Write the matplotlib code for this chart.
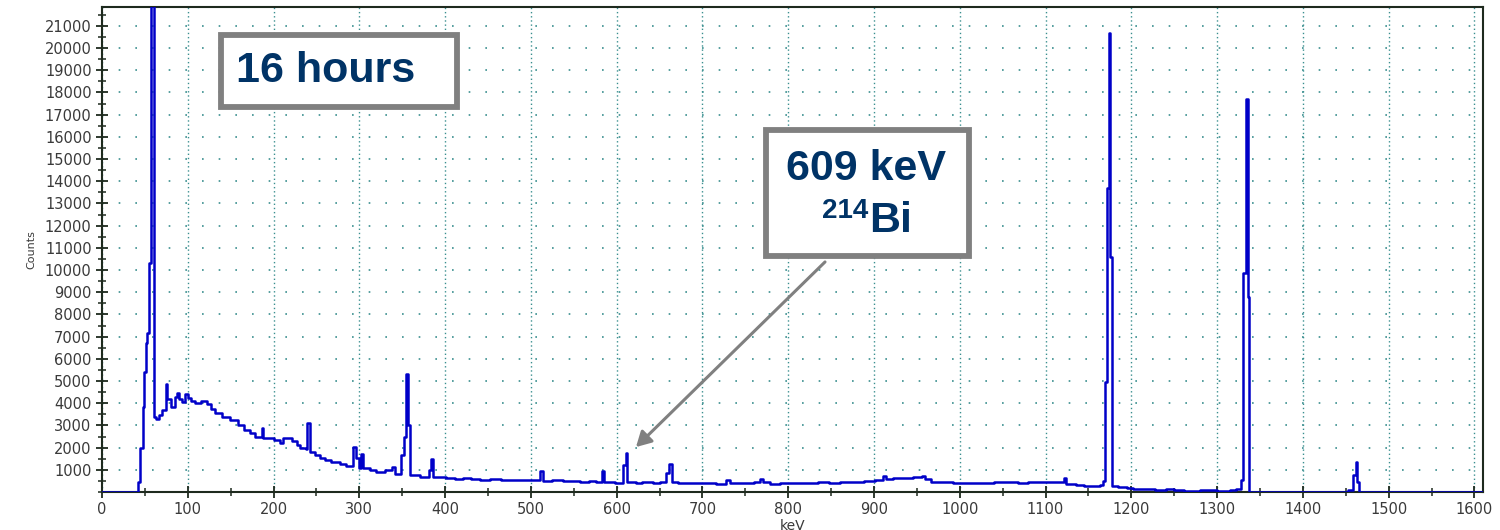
import matplotlib
matplotlib.use("Agg")
import matplotlib.pyplot as plt
from matplotlib.patches import Rectangle, FancyArrowPatch
from matplotlib.ticker import MultipleLocator

# ============================================================
# Spectrum (keV, counts), drawn as steps
# ============================================================
energy_kev = [
    0, 42, 44, 47.5, 49, 51, 52.5, 54.5, 57, 60.5,
    63, 66, 69.5, 74.5, 76, 81, 85, 87, 90, 93,
    97, 100, 104, 108, 115, 122, 127, 132, 140, 149,
    158.5, 166, 172.5, 178, 186, 188, 200, 207.5, 211, 215,
    221, 227, 231, 238, 239.5, 242.5, 248, 254, 260, 267.5,
    271.5, 277, 285, 292.5, 296.5, 299.5, 302.5, 304.5, 312, 320,
    330, 338.5, 341.5, 349, 351.5, 354.5, 357, 359, 370.5, 381,
    383, 385.5, 401.5, 412, 421, 430, 440.5, 452, 465, 478,
    490, 499, 510.5, 514, 525, 538, 548, 557, 568, 576,
    582.5, 585, 592, 598, 607.5, 610.5, 612.5, 622, 630, 642,
    650, 658, 661, 664, 672, 684, 693, 705, 716, 728,
    732, 742, 751, 760, 767, 771, 779, 790, 800, 810,
    822, 835, 848, 860, 875, 888, 901, 910.5, 914, 922,
    935, 945, 955.5, 960, 967, 980, 992, 1004, 1015, 1028,
    1040, 1055, 1068, 1080, 1092, 1100, 1110, 1118.5, 1121.5, 1124,
    1135, 1145, 1152, 1158, 1163, 1167, 1169, 1171.5, 1173.5, 1175.5,
    1178, 1185, 1195, 1202, 1215, 1228, 1241, 1250, 1261, 1280,
    1300, 1315, 1322, 1327.5, 1330.5, 1333.5, 1335.5, 1337, 1453, 1458,
    1461.5, 1463.5, 1466, 1610,
]
counts = [
    0, 450, 2000, 3850, 5400, 6700, 7150, 10300, 95000, 3400,
    3300, 3450, 3700, 4850, 4200, 3850, 4300, 4450, 4200, 4050,
    4400, 4250, 4100, 4000, 4100, 3950, 3750, 3550, 3400, 3250,
    3000, 2800, 2650, 2500, 2900, 2450, 2350, 2200, 2430, 2450,
    2280, 2120, 2000, 1950, 3100, 1800, 1650, 1530, 1450, 1330,
    1350, 1280, 1170, 2030, 1530, 1080, 1700, 1080, 1000, 900,
    980, 1130, 800, 1670, 2480, 5300, 3000, 780, 680, 990,
    1480, 680, 630, 600, 620, 580, 560, 590, 540, 560,
    520, 540, 950, 500, 520, 480, 500, 460, 480, 450,
    950, 450, 470, 420, 1200, 1750, 450, 420, 440, 400,
    430, 850, 1250, 430, 400, 420, 390, 410, 380, 520,
    420, 400, 390, 430, 570, 450, 380, 410, 390, 420,
    400, 440, 420, 460, 440, 480, 520, 740, 600, 640,
    620, 680, 740, 600, 460, 440, 420, 400, 420, 400,
    430, 450, 420, 460, 440, 470, 450, 470, 650, 360,
    330, 280, 250, 290, 320, 480, 4950, 13700, 20700, 10600,
    260, 220, 180, 130, 150, 110, 150, 90, 60, 70,
    50, 90, 150, 550, 9850, 17700, 8800, 0, 100, 750,
    1350, 450, 0, 0,
]

y_tick_values = list(range(1000, 22000, 1000))
x_tick_values = list(range(0, 1700, 100))

box_title = "16 hours"
peak_label = "609 keV"
isotope_mass = "214"
isotope_name = "Bi"

navy = "#003366"
frame_grey = "#808080"
grid_teal = "#3a8f8f"

W, H = 1500, 530
fig = plt.figure(figsize=(W / 100, H / 100), dpi=100)
ax = fig.add_axes([102 / W, 1 - 492 / H, (1483 - 102) / W, (492 - 7) / H])


def fx(px):
    return px / W


def fy(py):
    return 1 - py / H


ax.step(energy_kev, counts, where="post", color="#0000c8", linewidth=1.8, zorder=3)

ax.set_xlim(0, 1610)
ax.set_ylim(0, 21850)
ax.set_xticks(x_tick_values)
ax.set_yticks(y_tick_values)
ax.xaxis.set_minor_locator(MultipleLocator(50))
ax.yaxis.set_minor_locator(MultipleLocator(500))

ax.tick_params(which="major", direction="inout", length=8, width=1.3,
               color="#1e2a1e", labelsize=10.5, labelcolor="#3a3a3a")
ax.tick_params(which="minor", direction="inout", length=6, width=1.1,
               color="#1e2a1e")
for sp in ax.spines.values():
    sp.set_color("#1e2a1e")
    sp.set_linewidth(1.5)

ax.xaxis.grid(True, which="major", color=grid_teal, linestyle=(0, (1, 2)), linewidth=1.0)
ax.yaxis.grid(True, which="major", color=grid_teal, linestyle=(0, (1, 9)), linewidth=1.2)
ax.set_axisbelow(True)

ax.set_xlabel("keV", fontsize=10, color="#3a3a3a", labelpad=1)
ax.set_ylabel("Counts", fontsize=8, color="#3a3a3a", labelpad=6)

# annotation boxes (figure pixel positions)
for (x0, y0, x1, y1) in [(221, 35, 457, 107), (766, 130, 969, 256)]:
    fig.patches.append(Rectangle((fx(x0), fy(y1)), fx(x1 - x0), (y1 - y0) / H,
                                 transform=fig.transFigure, facecolor="white",
                                 edgecolor=frame_grey, linewidth=4.2, zorder=5))

fig.text(fx(326), fy(71), box_title, fontsize=31, fontweight="bold", color=navy,
         family="Liberation Sans", ha="center", va="center", zorder=6)
fig.text(fx(866), fy(180), peak_label, fontsize=31, fontweight="bold", color=navy,
         family="Liberation Sans", ha="center", va="baseline", zorder=6)
fig.text(fx(868), fy(218), isotope_mass, fontsize=20, fontweight="bold", color=navy,
         family="Liberation Sans", ha="right", va="baseline", zorder=6)
fig.text(fx(869), fy(232), isotope_name, fontsize=31, fontweight="bold", color=navy,
         family="Liberation Sans", ha="left", va="baseline", zorder=6)

arrow = FancyArrowPatch((fx(827), fy(260)), (fx(634), fy(449)),
                        transform=fig.transFigure, arrowstyle="-|>,head_length=9,head_width=5",
                        color=frame_grey, linewidth=2.2, zorder=6)
fig.patches.append(arrow)

fig.savefig("out.png", dpi=100)
